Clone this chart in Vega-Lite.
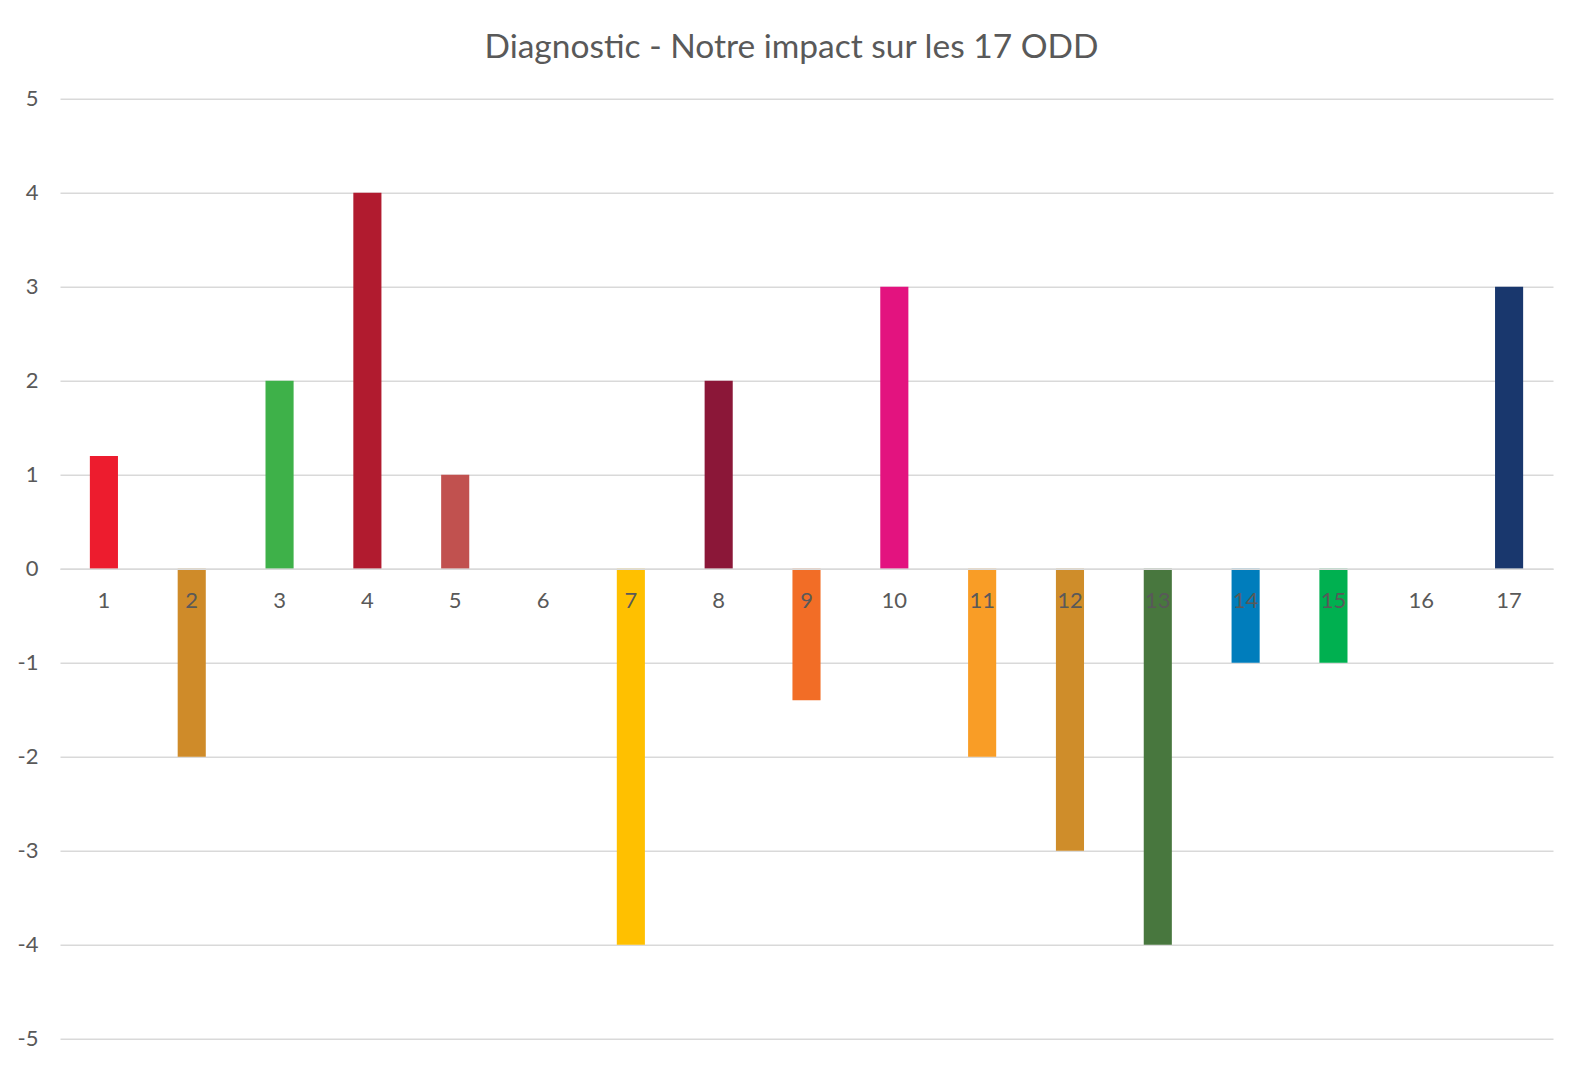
{
  "$schema": "https://vega.github.io/schema/vega-lite/v6.json",
  "width": 1493,
  "height": 940,
  "autosize": {"type": "none"},
  "padding": {"left": 60, "top": 98.7, "right": 30, "bottom": 30.3},
  "background": "white",
  "title": {
    "text": "Diagnostic - Notre impact sur les 17 ODD",
    "font": "Lato",
    "fontSize": 33.5,
    "fontWeight": "normal",
    "color": "#595959",
    "anchor": "middle",
    "dx": -15,
    "offset": 22
  },
  "data": {
    "values": [
      {"odd": "1", "value": 1.2, "color": "#ED1C2E"},
      {"odd": "2", "value": -2, "color": "#CF8B29"},
      {"odd": "3", "value": 2, "color": "#3EB149"},
      {"odd": "4", "value": 4, "color": "#B11B2F"},
      {"odd": "5", "value": 1, "color": "#C1514F"},
      {"odd": "6", "value": 0, "color": "#26BDE2"},
      {"odd": "7", "value": -4, "color": "#FFC000"},
      {"odd": "8", "value": 2, "color": "#8B1738"},
      {"odd": "9", "value": -1.4, "color": "#F26D26"},
      {"odd": "10", "value": 3, "color": "#E3137F"},
      {"odd": "11", "value": -2, "color": "#F99D26"},
      {"odd": "12", "value": -3, "color": "#CF8D2A"},
      {"odd": "13", "value": -4, "color": "#48773E"},
      {"odd": "14", "value": -1, "color": "#007DBC"},
      {"odd": "15", "value": -1, "color": "#00B050"},
      {"odd": "16", "value": 0, "color": "#02558B"},
      {"odd": "17", "value": 3, "color": "#19376D"}
    ]
  },
  "mark": {"type": "bar"},
  "encoding": {
    "x": {
      "field": "odd",
      "type": "ordinal",
      "sort": null,
      "scale": {"paddingInner": 0.68, "paddingOuter": 0.34},
      "axis": {
        "title": null,
        "orient": "bottom",
        "offset": -470,
        "zindex": 1,
        "labelAngle": 0,
        "labelFont": "Lato",
        "labelFontSize": 22,
        "labelColor": "#595959",
        "labelPadding": 21.5,
        "ticks": false,
        "domainColor": "#D9D9D9",
        "domainWidth": 1.5,
        "grid": false
      }
    },
    "y": {
      "field": "value",
      "type": "quantitative",
      "scale": {"domain": [-5, 5], "nice": false, "zero": false},
      "axis": {
        "title": null,
        "values": [-5, -4, -3, -2, -1, 0, 1, 2, 3, 4, 5],
        "labelExpr": "'' + datum.value",
        "domain": false,
        "ticks": false,
        "labelFont": "Lato",
        "labelFontSize": 22,
        "labelColor": "#595959",
        "labelPadding": 22,
        "grid": true,
        "gridColor": "#D9D9D9",
        "gridWidth": 1.5
      }
    },
    "color": {"field": "color", "type": "nominal", "scale": null, "legend": null}
  },
  "config": {"view": {"stroke": null}}
}
